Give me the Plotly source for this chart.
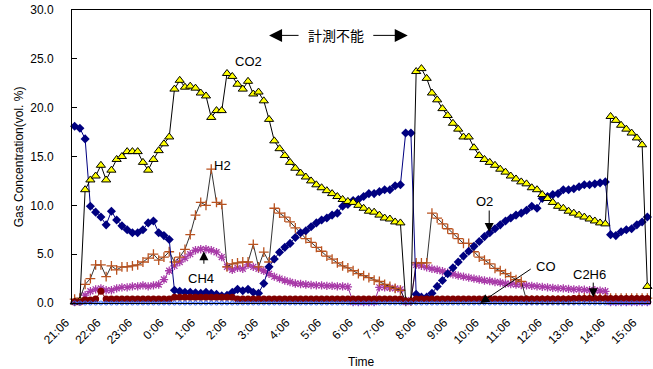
import plotly.graph_objects as go

# Gas composition sampled every 10 minutes from 21:06
STEP_MIN = 10

tick_labels = ["21:06", "22:06", "23:06", "0:06", "1:06", "2:06", "3:06", "4:06",
               "5:06", "6:06", "7:06", "8:06", "9:06", "10:06", "11:06", "12:06",
               "13:06", "14:06", "15:06"]

co2 = [0.1, 0.2, 11.6, 12.6, 13.0, 14.1, 12.6, 13.6, 14.7, 15.0,
       15.5, 15.5, 15.5, 14.4, 13.6, 14.7, 15.6, 16.3, 17.0, 21.9,
       22.8, 22.1, 22.2, 22.0, 21.5, 21.2, 19.0, 19.7, 19.7, 23.5,
       23.2, 22.4, 21.9, 22.7, 21.4, 21.6, 20.7, 18.8, 16.6, 15.8,
       15.1, 14.4, 13.8, 13.3, 12.9, 12.5, 12.1, 11.8, 11.5, 11.2,
       10.9, 10.6, 10.4, 10.3, 10.0, 9.7, 9.4, 9.3, 9.0, 8.7,
       8.6, 8.3, 8.2, 0.2, 0.2, 23.7, 24.0, 23.0, 21.5, 20.8,
       19.9, 19.2, 18.4, 17.8, 17.0, 17.0, 15.9, 15.1, 14.7, 14.4,
       14.1, 13.7, 13.4, 13.0, 12.7, 12.4, 12.2, 11.8, 11.6, 11.1,
       10.7, 10.3, 9.9, 9.7, 9.4, 9.2, 9.0, 8.8, 8.6, 8.4,
       8.2, 8.1, 19.1, 18.7, 18.2, 17.8, 17.4, 16.9, 16.2, 1.7]

o2 = [18.1, 17.9, 16.8, 9.9, 9.3, 8.8, 8.0, 9.4, 8.5, 7.9,
      7.5, 7.2, 7.2, 7.5, 8.2, 8.4, 7.2, 6.9, 6.5, 1.3,
      1.2, 1.1, 1.1, 1.05, 1.0, 1.1, 1.0, 0.9, 0.75, 0.8,
      1.1, 1.4, 1.25, 1.4, 1.1, 1.0, 2.0, 3.7, 4.5, 5.2,
      5.7, 6.1, 6.7, 7.2, 7.4, 7.8, 8.2, 8.5, 8.7, 9.0,
      9.2, 9.9, 10.1, 10.5, 10.6, 10.9, 11.2, 11.2, 11.4, 11.6,
      11.6, 12.0, 12.1, 17.4, 17.4, 0.9, 0.6, 0.6, 1.0, 1.7,
      2.3, 3.0, 3.6, 4.2, 4.8, 5.3, 5.8, 6.3, 6.8, 7.2,
      7.6, 8.0, 8.4, 8.7, 9.0, 9.2, 9.5, 9.9, 9.7, 10.7,
      10.9, 11.1, 11.2, 11.6, 11.6, 11.7, 11.9, 12.1, 12.1, 12.2,
      12.3, 12.4, 7.0, 6.9, 7.3, 7.5, 7.6, 8.0, 8.3, 8.8]

h2 = [0.4, 0.5, 1.9, 2.5, 3.9, 3.9, 2.7, 3.8, 3.4, 3.7,
      3.7, 3.8, 3.9, 4.2, 4.6, 5.0, 4.4, 4.7, 5.25, 4.2,
      4.7, 5.5, 7.0, 9.0, 10.3, 10.0, 13.7, 10.3, 10.1, 3.7,
      4.0, 4.1, 4.2, 4.2, 6.0, 3.7, 5.2, 4.2, 9.7, 9.2,
      8.8, 8.3, 7.7, 7.1, 6.6, 6.2, 5.7, 5.3, 4.8, 4.5,
      4.1, 3.8, 3.6, 3.3, 3.0, 2.8, 2.6, 2.35, 2.2, 1.9,
      1.7, 1.5, 1.3, 0.2, 0.2, 4.1, 4.1, 4.1, 9.2, 8.7,
      8.1, 7.6, 7.1, 6.6, 6.1, 6.1, 5.25, 4.7, 4.4, 4.0,
      3.55, 3.3, 3.0, 2.7, 2.4, 2.2, 0.3, 0.3, 0.3, 0.3,
      0.3, 0.3, 0.3, 0.3, 0.3, 0.3, 0.5, 0.5, 0.5, 0.5,
      0.5, 0.5, 0.5, 0.5, 0.5, 0.5, 0.5, 0.5, 0.5, 0.5]

ch4 = [0.1, 0.2, 0.8, 1.2, 1.4, 1.5, 1.3, 1.3, 1.5, 1.6,
       1.6, 1.7, 1.7, 1.8, 1.7, 1.8, 1.9, 2.4, 3.3, 3.8,
       4.2, 4.6, 5.0, 5.4, 5.5, 5.5, 5.4, 5.2, 4.7, 3.7,
       3.4, 3.6, 3.5, 3.9, 3.7, 3.5, 3.3, 3.0, 2.7, 2.5,
       2.3, 2.15, 2.0, 1.95, 1.9, 1.85, 1.8, 1.8, 1.75, 1.75,
       1.7, 1.7, 1.65, 0.1, 0.1, 0.1, 0.1, 0.1, 1.6, 1.6,
       1.55, 1.5, 1.4, 0.1, 0.3, 3.9, 3.8, 3.65, 3.5, 3.4,
       3.25, 3.1, 2.95, 2.8, 2.7, 2.6, 2.5, 2.4, 2.3, 2.25,
       2.15, 2.1, 2.0, 1.95, 1.9, 1.85, 1.8, 1.75, 1.7, 1.65,
       1.6, 1.55, 1.5, 1.5, 1.45, 1.4, 1.4, 1.35, 1.3, 1.3,
       1.25, 1.2, 0.1, 0.1, 0.1, 0.1, 0.1, 0.1, 0.1, 0.1]

c2h6 = [0.1, 0.1, 0.3, 0.3, 0.4, 1.2, 0.4, 0.4, 0.4, 0.4,
        0.4, 0.4, 0.4, 0.4, 0.4, 0.4, 0.4, 0.4, 0.4, 0.6,
        0.6, 0.6, 0.6, 0.6, 0.6, 0.6, 0.6, 0.6, 0.6, 0.6,
        0.6, 0.4, 0.4, 0.4, 0.4, 0.4, 0.4, 0.4, 0.4, 0.4,
        0.4, 0.4, 0.4, 0.4, 0.4, 0.4, 0.4, 0.4, 0.4, 0.4,
        0.4, 0.4, 0.4, 0.4, 0.4, 0.4, 0.4, 0.4, 0.4, 0.4,
        0.4, 0.4, 0.4, 0.2, 0.2, 0.4, 0.4, 0.4, 0.4, 0.4,
        0.4, 0.4, 0.4, 0.4, 0.4, 0.4, 0.4, 0.4, 0.4, 0.4,
        0.4, 0.4, 0.4, 0.4, 0.4, 0.4, 0.4, 0.4, 0.4, 0.4,
        0.4, 0.4, 0.4, 0.4, 0.4, 0.45, 0.45, 0.45, 0.45, 0.45,
        0.45, 0.45, 0.45, 0.45, 0.45, 0.45, 0.45, 0.45, 0.45, 0.45]

co = [0.0, 0.0, 0.0, 0.0, 0.0, 0.0, 0.0, 0.0, 0.0, 0.0,
      0.0, 0.0, 0.0, 0.0, 0.0, 0.0, 0.0, 0.0, 0.0, 0.0,
      0.0, 0.0, 0.0, 0.0, 0.0, 0.0, 0.0, 0.0, 0.0, 0.0,
      0.0, 0.0, 0.0, 0.0, 0.0, 0.0, 0.0, 0.0, 0.0, 0.0,
      0.0, 0.0, 0.0, 0.0, 0.0, 0.0, 0.0, 0.0, 0.0, 0.0,
      0.0, 0.0, 0.0, 0.0, 0.0, 0.0, 0.0, 0.0, 0.0, 0.0,
      0.0, 0.0, 0.0, 0.0, 0.0, 0.0, 0.0, 0.0, 0.0, 0.0,
      0.0, 0.0, 0.0, 0.0, 0.0, 0.0, 0.0, 0.0, 0.0, 0.0,
      0.0, 0.0, 0.0, 0.0, 0.0, 0.0, 0.0, 0.0, 0.0, 0.0,
      0.0, 0.0, 0.0, 0.0, 0.0, 0.0, 0.0, 0.0, 0.0, 0.0,
      0.0, 0.0, 0.0, 0.0, 0.0, 0.0, 0.0, 0.0, 0.0, 0.0]

minutes = [STEP_MIN * i for i in range(len(co2))]
tick_vals = [60 * k for k in range(len(tick_labels))]

FONT = "Liberation Sans, Arial, sans-serif"
JP_FONT = "Noto Sans CJK JP, sans-serif"

fig = go.Figure()


def add_series(y, line_color, marker, line_width=1.0):
    fig.add_trace(go.Scatter(
        x=minutes, y=y, mode="lines+markers",
        line=dict(color=line_color, width=line_width),
        marker=marker, cliponaxis=False, showlegend=False,
    ))


add_series(ch4, "#9a2f9e",
           dict(symbol="asterisk-open", size=7, color="#a83aa8",
                line=dict(color="#a83aa8", width=1.3)))
add_series(h2, "#000000",
           dict(symbol="cross-thin-open", size=7, color="#b9521f",
                line=dict(color="#b9521f", width=1.3)), line_width=0.8)
add_series(o2, "#000080",
           dict(symbol="diamond", size=7, color="#000080"))
add_series(co2, "#000000",
           dict(symbol="triangle-up", size=8, color="#ffff00",
                line=dict(color="#000000", width=1)))
add_series(c2h6, "#800000",
           dict(symbol="circle", size=7, color="#800000"))
add_series(co, "#3366ff",
           dict(symbol="circle-open", size=4, color="#3366ff",
                line=dict(color="#3366ff", width=1)))

annotations = [
    dict(x=330, y=24.7, text="CO2", showarrow=False, font=dict(size=13)),
    dict(x=282, y=14.1, text="H2", showarrow=False, font=dict(size=13)),
    dict(x=241, y=2.56, text="CH4", showarrow=False, font=dict(size=13)),
    dict(x=780, y=10.4, text="O2", showarrow=False, font=dict(size=13)),
    dict(x=897, y=3.7, text="CO", showarrow=False, font=dict(size=13)),
    dict(x=979, y=2.95, text="C2H6", showarrow=False, font=dict(size=13)),
    dict(x=498, y=27.4, text="計測不能", showarrow=False,
         font=dict(size=14, family=JP_FONT)),
    # pointer arrows (tip at x, y; tail offset in pixels)
    dict(x=246, y=5.3, ax=0, ay=14, text="", showarrow=True),
    dict(x=789, y=7.27, ax=0, ay=-23, text="", showarrow=True),
    dict(x=772, y=0.0, ax=52, ay=-35, text="", showarrow=True),
    dict(x=987, y=0.6, ax=0, ay=-16, text="", showarrow=True),
    dict(x=370, y=27.4, ax=31, ay=0, text="", showarrow=True, arrowsize=2.6),
    dict(x=634, y=27.4, ax=-36, ay=0, text="", showarrow=True, arrowsize=2.6),
]
for a in annotations:
    a.setdefault("xref", "x")
    a.setdefault("yref", "y")
    if a.get("showarrow"):
        a.setdefault("arrowhead", 2)
        a.setdefault("arrowsize", 1.8)
        a.setdefault("arrowwidth", 1)
        a["arrowcolor"] = "#000000"

annotations += [
    dict(xref="paper", yref="paper", x=0.5, y=-0.201, text="Time",
         showarrow=False, font=dict(size=12), yanchor="middle"),
    dict(xref="paper", yref="paper", x=-0.092, y=0.50, xanchor="center",
         yanchor="middle", text="Gas Concentration(vol. %)", textangle=-90,
         showarrow=False, font=dict(size=12)),
]

fig.update_layout(
    width=653, height=369,
    margin=dict(l=72, r=3, t=10, b=66),
    paper_bgcolor="white", plot_bgcolor="white",
    font=dict(family=FONT, size=12, color="#000000"),
    annotations=annotations,
    showlegend=False,
)
fig.update_xaxes(
    range=[-5, 1095], tickvals=tick_vals, ticktext=tick_labels,
    tickangle=-45, showgrid=False, zeroline=False,
    showline=True, linecolor="#000000", linewidth=1, mirror=True,
    ticks="", tickfont=dict(size=12), ticklabelshift=-9, ticklabelstandoff=7,
)
fig.update_yaxes(
    range=[0, 30], dtick=5, tickformat=".1f", showgrid=False, zeroline=False,
    showline=True, linecolor="#000000", linewidth=1, mirror=True,
    ticks="inside", ticklen=5, tickcolor="#000000",
    ticklabelstandoff=15, tickfont=dict(size=12),
)

fig.write_html("out.html")
